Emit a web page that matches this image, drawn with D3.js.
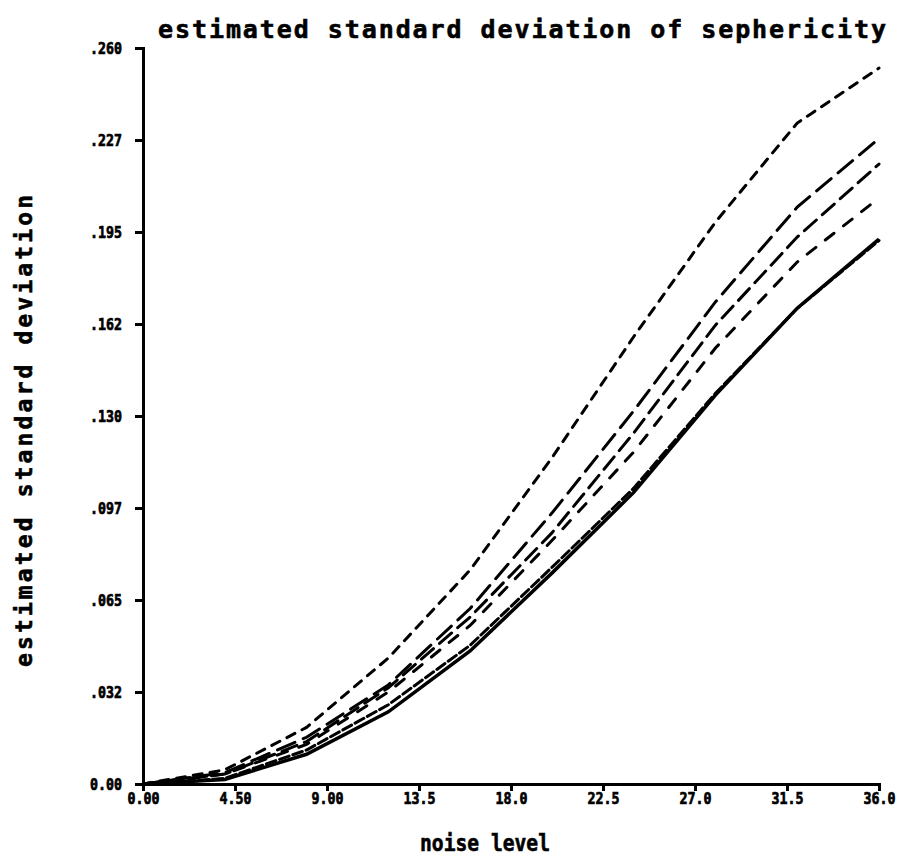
<!DOCTYPE html>
<html>
<head>
<meta charset="utf-8">
<script src="https://cdn.jsdelivr.net/npm/d3@7"></script>
<style>
    body { margin: 0; background: #fff; }
    #chart-svg { width: 903px; height: 857px; display: block; }
    text { font-family: "DejaVu Sans Mono", monospace; font-weight: bold; fill: #000; }
</style>
</head>
<body>
<svg id="chart-svg"></svg>
<script>
// noise level steps and the six estimated curves
const noise_levels = [0, 4, 8, 12, 16, 20, 24, 28, 32, 36];
const series_short_dash = [0, 0.005, 0.020, 0.0445, 0.0756, 0.1152, 0.158, 0.1985, 0.2335, 0.2529];
const series_long_dash_1 = [0, 0.004, 0.0165, 0.035, 0.062, 0.0957, 0.1318, 0.1703, 0.2038, 0.228];
const series_long_dash_2 = [0, 0.0035, 0.015, 0.034, 0.059, 0.0887, 0.124, 0.1621, 0.1932, 0.219];
const series_mid_dash = [0, 0.0035, 0.014, 0.0325, 0.056, 0.086, 0.1173, 0.154, 0.1844, 0.207];
const series_near_solid = [0, 0.002, 0.012, 0.028, 0.049, 0.0765, 0.1045, 0.138, 0.168, 0.192];
const series_solid = [0, 0.0016, 0.0105, 0.0255, 0.047, 0.0745, 0.103, 0.1374, 0.1681, 0.1925];

const x_tick_values = [0, 4.5, 9, 13.5, 18, 22.5, 27, 31.5, 36];
const x_tick_labels = ["0.00", "4.50", "9.00", "13.5", "18.0", "22.5", "27.0", "31.5", "36.0"];
const y_tick_values = [0, 0.0325, 0.065, 0.0975, 0.13, 0.1625, 0.195, 0.2275, 0.26];
const y_tick_labels = ["0.00", ".032", ".065", ".097", ".130", ".162", ".195", ".227", ".260"];

class SphericityChart{
    constructor(){
        this.svg = d3.select("#chart-svg");
        this.svg_width = 903;
        this.svg_height = 857;
        this.svg.attr("viewBox", [0, 0, this.svg_width, this.svg_height]);
        this.plot = {'left':143, 'right':879, 'top':48, 'bottom':784};

        this.x_scale = d3.scaleLinear()
            .domain([0, 36])
            .range([this.plot.left, this.plot.right]);
        this.y_scale = d3.scaleLinear()
            .domain([0, 0.26])
            .range([this.plot.bottom, this.plot.top]);

        this.draw_axes();
        this.draw_lines();
        this.draw_titles();
    }

    draw_axes(){
        let x_axis = d3.axisBottom(this.x_scale)
            .tickValues(x_tick_values)
            .tickFormat((d, i) => x_tick_labels[i])
            .tickSize(7)
            .tickPadding(2);
        let y_axis = d3.axisLeft(this.y_scale)
            .tickValues(y_tick_values)
            .tickFormat((d, i) => y_tick_labels[i])
            .tickSize(8)
            .tickPadding(14);

        let gx = this.svg.append("g")
            .attr("transform", `translate(0,${this.plot.bottom})`)
            .call(x_axis);
        let gy = this.svg.append("g")
            .attr("transform", `translate(${this.plot.left},0)`)
            .call(y_axis);

        [gx, gy].forEach(g => {
            g.select(".domain").attr("stroke", "#000").attr("stroke-width", 3);
            g.selectAll(".tick line").attr("stroke", "#000").attr("stroke-width", 3);
            g.selectAll(".tick text")
                .attr("font-family", "DejaVu Sans Mono, monospace")
                .attr("font-weight", "bold")
                .attr("font-size", 16)
                .attr("fill", "#000")
                .attr("stroke", "#000")
                .attr("stroke-width", 0.7)
                .attr("textLength", 32)
                .attr("lengthAdjust", "spacingAndGlyphs");
        });
        gy.selectAll(".tick text").attr("x", -21);
    }

    draw_lines(){
        let all_series = [
            {values: series_short_dash, dash: "9,8"},
            {values: series_long_dash_1, dash: "19,9"},
            {values: series_long_dash_2, dash: "16,8"},
            {values: series_mid_dash, dash: "11,12"},
            {values: series_near_solid, dash: "10,4"},
            {values: series_solid, dash: null}
        ];

        let line = d3.line()
            .x((d, i) => this.x_scale(noise_levels[i]))
            .y(d => this.y_scale(d));

        this.svg.append("g")
            .selectAll("path")
            .data(all_series)
            .join("path")
            .attr("d", d => line(d.values))
            .attr("fill", "none")
            .attr("stroke", "#000")
            .attr("stroke-width", d => d.dash ? 3 : 3.5)
            .attr("stroke-linecap", d => d.dash ? "round" : "butt")
            .attr("stroke-dasharray", d => d.dash);
    }

    draw_titles(){
        let heavy = sel => sel.attr("stroke", "#000").attr("stroke-width", 0.6);

        this.svg.append("text")
            .attr("x", 158)
            .attr("y", 38)
            .attr("font-size", 25)
            .attr("textLength", 728)
            .attr("lengthAdjust", "spacing")
            .call(heavy)
            .text("estimated standard deviation of sephericity");

        this.svg.append("text")
            .attr("x", 420)
            .attr("y", 851)
            .attr("font-size", 23)
            .attr("textLength", 130)
            .attr("lengthAdjust", "spacingAndGlyphs")
            .call(heavy)
            .text("noise level");

        this.svg.append("text")
            .attr("transform", "translate(32,667) rotate(-90)")
            .attr("font-size", 23)
            .attr("textLength", 472)
            .attr("lengthAdjust", "spacing")
            .call(heavy)
            .text("estimated standard deviation");
    }
}

new SphericityChart();
</script>
</body>
</html>
